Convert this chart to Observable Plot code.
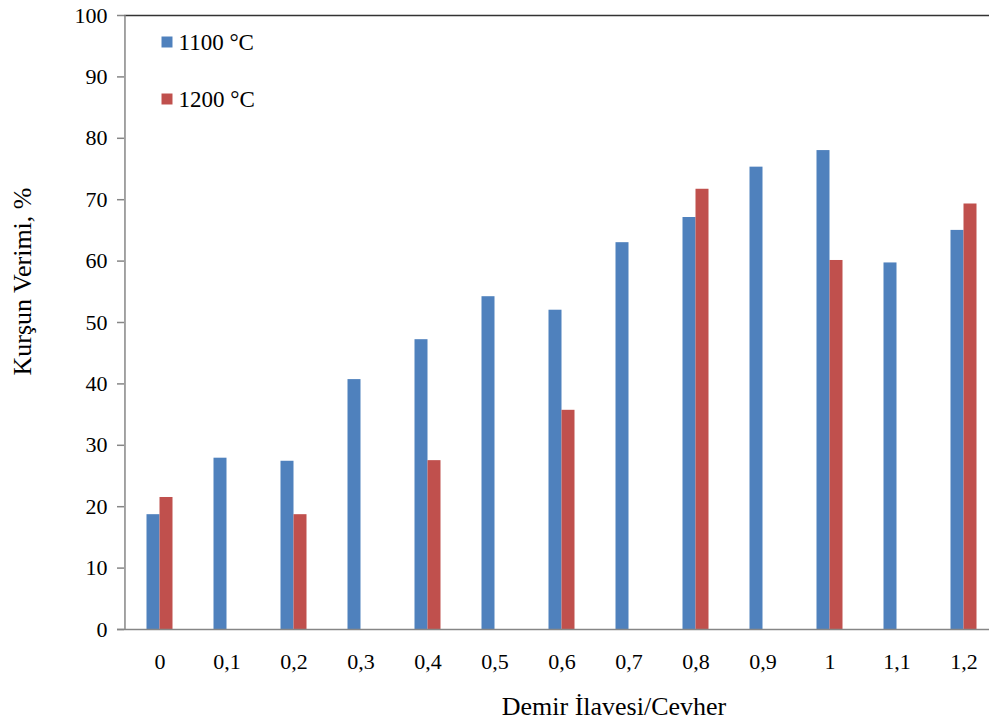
<!DOCTYPE html>
<html>
<head>
<meta charset="utf-8">
<script src="https://cdn.jsdelivr.net/npm/d3@7"></script>
<script src="https://cdn.jsdelivr.net/npm/@observablehq/plot@0.6"></script>
<style>
  html, body { margin: 0; padding: 0; background: #fff; }
  #chart svg { display: block; font-family: 'Liberation Serif', 'Times New Roman', serif !important; }
  #chart svg text { font-family: 'Liberation Serif', 'Times New Roman', serif !important; }
</style>
</head>
<body>
<div id="chart"></div>
<script>
const categories = ["0","0,1","0,2","0,3","0,4","0,5","0,6","0,7","0,8","0,9","1","1,1","1,2"];
const v1100 = [18.7, 27.9, 27.4, 40.7, 47.2, 54.2, 52.0, 63.0, 67.1, 75.3, 78.0, 59.7, 65.0];
const v1200 = [21.5, null, 18.7, null, 27.5, null, 35.7, null, 71.7, null, 60.1, null, 69.3];
const seriesNames = ["1100 °C", "1200 °C"];
const seriesColors = ["#4F81BD", "#C0504D"];
const yTicks = [0, 10, 20, 30, 40, 50, 60, 70, 80, 90, 100];
const xTitle = "Demir İlavesi/Cevher";
const yTitle = "Kurşun Verimi, %";

const d1100 = categories.map((c, i) => ({cat: c, value: v1100[i]}));
const d1200 = categories.map((c, i) => ({cat: c, value: v1200[i]})).filter(d => d.value != null);

const font = "'Liberation Serif', 'Times New Roman', serif";
const W = 989, H = 724;
const mL = 124, mT = 15, mB = 95;
const step = 67.08;
const x0 = 125.5;
// offset from the first band centre to the left edge of the frame (for the y-axis line)
const axisLineDx = mL - (x0 + step / 2);

const chart = Plot.plot({
  width: W,
  height: H,
  marginLeft: mL,
  marginRight: 0,
  marginTop: mT,
  marginBottom: mB,
  style: {fontFamily: font, fontSize: "21px", color: "#000", background: "#fff"},
  x: {domain: categories, range: [x0, x0 + step * categories.length], paddingInner: 0.806, paddingOuter: 0.403},
  y: {domain: [0, 100], range: [629, 15]},
  marks: [
    Plot.barY(d1100, {x: "cat", y: "value", fill: seriesColors[0], dx: -6.5}),
    Plot.barY(d1200, {x: "cat", y: "value", fill: seriesColors[1], dx: 6.5}),
    Plot.ruleY([100], {stroke: "#333", strokeWidth: 1.5}),
    Plot.ruleX([categories[0]], {x: d => d, y1: 0, y2: 100, dx: axisLineDx, stroke: "#868686", strokeWidth: 1.5}),
    Plot.ruleY([0], {stroke: "#868686", strokeWidth: 1.5, insetLeft: -7}),
    Plot.axisY({ticks: yTicks, tickSize: 7, tickPadding: 10, stroke: "#868686", strokeWidth: 1.5, label: null, fontSize: 22, fontFamily: font}),
    Plot.axisX({tickSize: 0, tickPadding: 24, label: null, fontSize: 22, fontFamily: font}),
    Plot.text([xTitle], {frameAnchor: "bottom", lineAnchor: "middle", textAnchor: "middle", dx: 57, dy: 77, fontSize: 26, fontFamily: font, fill: "#000"}),
    Plot.text([yTitle], {frameAnchor: "left", lineAnchor: "middle", textAnchor: "middle", dx: -102, dy: -41, rotate: -90, fontSize: 26, fontFamily: font, fill: "#000"}),
    Plot.dot([seriesNames[0]], {frameAnchor: "top-left", dx: 42.5, dy: 26.5, symbol: "square", r: 6.2, fill: seriesColors[0]}),
    Plot.text([seriesNames[0]], {frameAnchor: "top-left", lineAnchor: "middle", textAnchor: "start", dx: 54, dy: 27, fontSize: 23, fontFamily: font, fill: "#000"}),
    Plot.dot([seriesNames[1]], {frameAnchor: "top-left", dx: 42.5, dy: 83.5, symbol: "square", r: 6.2, fill: seriesColors[1]}),
    Plot.text([seriesNames[1]], {frameAnchor: "top-left", lineAnchor: "middle", textAnchor: "start", dx: 54, dy: 84, fontSize: 23, fontFamily: font, fill: "#000"})
  ]
});
document.getElementById("chart").appendChild(chart);
</script>
</body>
</html>
